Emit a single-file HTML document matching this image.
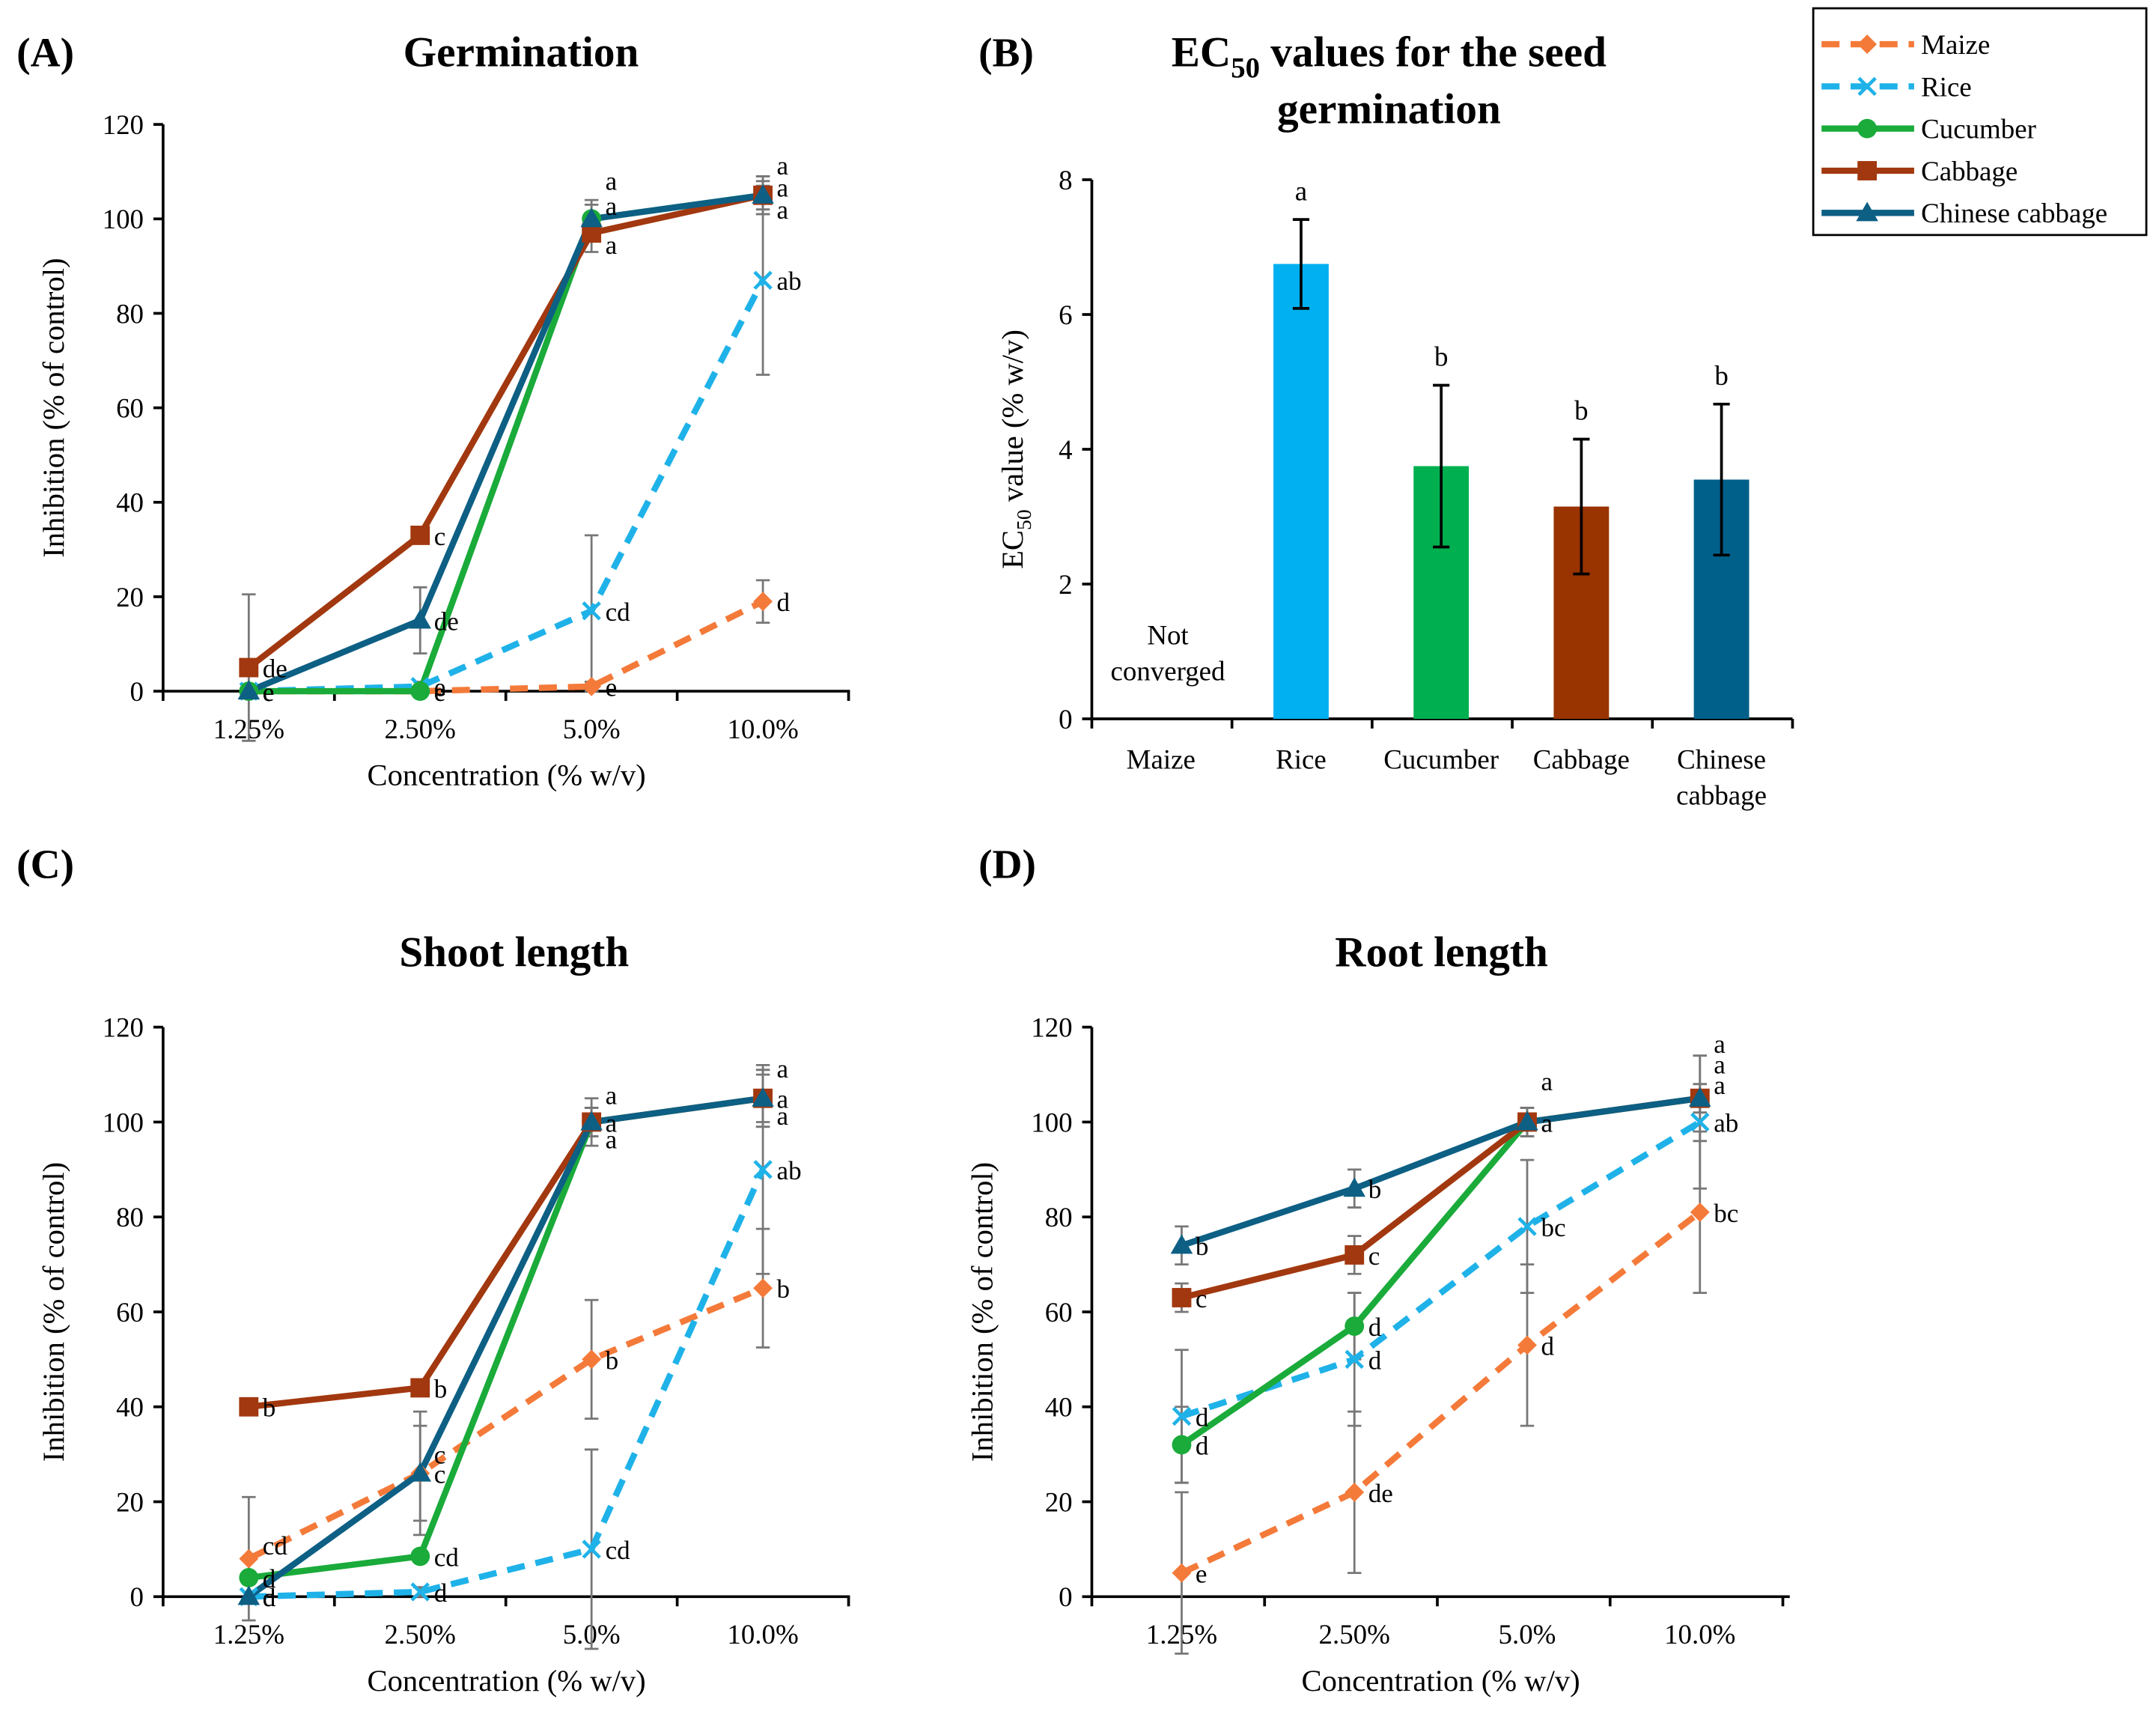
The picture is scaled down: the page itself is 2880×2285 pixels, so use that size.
<!DOCTYPE html>
<html><head><meta charset="utf-8">
<style>
html,body{margin:0;padding:0;background:#fff;}
svg, svg text, svg tspan{font-family:"Liberation Serif","Times New Roman",serif;}
</style></head>
<body>
<svg id="fig" width="2880" height="2280" viewBox="0 0 1560 1235" xmlns="http://www.w3.org/2000/svg" font-family="Liberation Serif, serif"></svg>
<script>
// ---- data ----
const concCategories = ["1.25%","2.50%","5.0%","10.0%"];
const yTicksLine = [0,20,40,60,80,100,120];
const seriesNames = ["Maize","Rice","Cucumber","Cabbage","Chinese cabbage"];
// Panel A germination
const germMaize = [0,0,1,19];
const germRice = [0,1,17,87];
const germCucumber = [0,0,100,105];
const germCabbage = [5,33,97,105];
const germChinese = [0,15,100,105];
const germErrMaize = [0,0,1,4.5];
const germErrRice = [0,1,16,20];
const germErrCucumber = [0,0,3,3];
const germErrCabbage = [15.5,0,4,4];
const germErrChinese = [0,7,4,4];
const germLetters = [["e","e","e","d"],["e","e","cd","ab"],["e","e","a","a"],["de","c","a","a"],["e","de","a","a"]];
const germLetterDy = [[0,0,0,0],[0,0,0,0],[0,0,-28,-22],[0,0,8,10],[0,0,-10,-6]];
// Panel C shoot
const shootMaize = [8,26,50,65];
const shootRice = [0,1,10,90];
const shootCucumber = [4,8.5,100,105];
const shootCabbage = [40,44,100,105];
const shootChinese = [0,26,100,105];
const shootErrMaize = [13,10,12.5,12.5];
const shootErrRice = [0,1,21,22];
const shootErrCucumber = [0,0,3,5];
const shootErrCabbage = [1,1,5,6];
const shootErrChinese = [0,13,3,6];
const shootLetters = [["cd","c","b","b"],["d","d","cd","ab"],["d","cd","a","a"],["b","b","a","a"],["d","c","a","a"]];
const shootLetterDy = [[-10,-14,0,0],[0,0,0,0],[0,0,-20,-22],[0,0,12,12],[0,0,0,0]];
// Panel D root
const rootMaize = [5,22,53,81];
const rootRice = [38,50,78,100];
const rootCucumber = [32,57,100,105];
const rootCabbage = [63,72,100,105];
const rootChinese = [74,86,100,105];
const rootErrMaize = [17,17,17,17];
const rootErrRice = [14,14,14,14];
const rootErrCucumber = [8,7,3,3];
const rootErrCabbage = [3,4,3,3];
const rootErrChinese = [4,4,3,9];
const rootLetters = [["e","de","d","bc"],["d","d","bc","ab"],["d","d","a","a"],["c","c","a","a"],["b","b","a","a"]];
const rootLetterDy = [[0,0,0,0],[0,0,0,0],[0,0,-30,-40],[0,0,0,-25],[0,0,0,-10]];
// Panel B EC50
const ecCategories = ["Maize","Rice","Cucumber","Cabbage","Chinese cabbage"];
const ecValues = [null,6.75,3.75,3.15,3.55];
const ecErrors = [null,0.66,1.2,1.0,1.12];
const ecLetters = ["","a","b","b","b"];
const ecTicks = [0,2,4,6,8];

const colors = ["#f47a3a","#1fb2e8","#1aab3a","#a2380f","#0d5f84"];
const barColors = [null,"#00b0f0","#00b050","#993300","#00608a"];
const dashed = [true,true,false,false,false];
const markers = ["diamond","x","circle","square","triangle"];

const NS="http://www.w3.org/2000/svg";
const svg=document.getElementById('fig');
function el(tag,attrs,parent,text){const e=document.createElementNS(NS,tag);for(const k in attrs)e.setAttribute(k,attrs[k]);if(tag==='text')e.setAttribute('font-family','Liberation Serif, serif');if(text!==undefined)e.textContent=text;(parent||svg).appendChild(e);return e;}

function marker(g,type,x,y,c){
  let m;
  if(type==="diamond") m=el('polygon',{points:`${x},${y-7} ${x+7},${y} ${x},${y+7} ${x-7},${y}`,fill:c},g);
  else if(type==="x"){m=el('path',{d:`M${x-6},${y-6}L${x+6},${y+6}M${x-6},${y+6}L${x+6},${y-6}`,stroke:c,'stroke-width':2.5},g);}
  else if(type==="circle") m=el('circle',{cx:x,cy:y,r:7,fill:c},g);
  else if(type==="square") m=el('rect',{x:x-7,y:y-7,width:14,height:14,fill:c},g);
  else m=el('polygon',{points:`${x},${y-8} ${x+8},${y+6} ${x-8},${y+6}`,fill:c},g);
  return m;
}

function linePanel(name,cfg,series,errs,letters,ldy){
  const g=el('g',{});
  
  
  const {ax,axEnd,y0,yTop,x0,step,title,titleX,titleY,tag,tagY} = cfg;
  const ys=v=>y0-(v/120)*(y0-yTop);
  const xs=i=>x0+i*step;
  const t=el('text',{x:titleX,y:titleY,'font-size':31,'font-weight':'bold','text-anchor':'middle'},g,title);
  
  const tg=el('text',{x:cfg.tagX||12,y:tagY,'font-size':30,'font-weight':'bold'},g,tag);
  
  el('line',{x1:ax,y1:yTop,x2:ax,y2:y0,stroke:'#000','stroke-width':2},g);
  el('line',{x1:ax,y1:y0,x2:axEnd,y2:y0,stroke:'#000','stroke-width':2},g);
  yTicksLine.forEach(v=>{
    el('line',{x1:ax-7,y1:ys(v),x2:ax,y2:ys(v),stroke:'#000','stroke-width':2},g);
    const l=el('text',{x:ax-14,y:ys(v)+7,'font-size':20,'text-anchor':'end'},g,String(v));
    
  });
  for(let i=0;i<=concCategories.length;i++){
    const xx=ax+i*step;
    el('line',{x1:xx,y1:y0,x2:xx,y2:y0+7,stroke:'#000','stroke-width':2},g);
  }
  concCategories.forEach((c,i)=>{
    const l=el('text',{x:xs(i),y:y0+34,'font-size':20,'text-anchor':'middle'},g,c);
    
  });
  const xt=el('text',{x:(ax+axEnd)/2,y:y0+68,'font-size':22,'text-anchor':'middle'},g,'Concentration (% w/v)');
  
  const yt=el('text',{x:0,y:0,'font-size':22,'text-anchor':'middle',transform:`translate(${ax-72},${(y0+yTop)/2}) rotate(-90)`},g,'Inhibition (% of control)');
  
  series.forEach((s,k)=>{
    s.forEach((v,i)=>{
      const e=errs[k][i]; if(!e) return;
      const x=xs(i),a=ys(v+e),b=ys(v-e);
      const eb=el('path',{d:`M${x},${a}L${x},${b}M${x-5},${a}L${x+5},${a}M${x-5},${b}L${x+5},${b}`,stroke:'#777','stroke-width':1.5,fill:'none'},g);
      
    });
  });
  series.forEach((s,k)=>{
    const pts=s.map((v,i)=>`${xs(i)},${ys(v)}`).join(' ');
    const pl=el('polyline',{points:pts,fill:'none',stroke:colors[k],'stroke-width':4.5,'stroke-dasharray':dashed[k]?'13,8':'none','stroke-linejoin':'round'},g);
    
    
  });
  series.forEach((s,k)=>{
    s.forEach((v,i)=>{
      const m=marker(g,markers[k],xs(i),ys(v),colors[k]);
      
      
      const lt=letters[k][i];
      if(lt){
        const l=el('text',{x:xs(i)+10,y:ys(v)+7+ldy[k][i],'font-size':19},g,lt);
        
      }
    });
  });
}

linePanel('germination-chart',{ax:118,axEnd:615,y0:500,yTop:90,x0:180,step:124,title:'Germination',titleX:377,titleY:48,tag:'(A)',tagY:48},
  [germMaize,germRice,germCucumber,germCabbage,germChinese],
  [germErrMaize,germErrRice,germErrCucumber,germErrCabbage,germErrChinese],germLetters,germLetterDy);
linePanel('shoot-length-chart',{ax:118,axEnd:615,y0:1155,yTop:743,x0:180,step:124,title:'Shoot length',titleX:372,titleY:699,tag:'(C)',tagY:635},
  [shootMaize,shootRice,shootCucumber,shootCabbage,shootChinese],
  [shootErrMaize,shootErrRice,shootErrCucumber,shootErrCabbage,shootErrChinese],shootLetters,shootLetterDy);
linePanel('root-length-chart',{ax:790,axEnd:1295,y0:1155,yTop:743,x0:855,step:125,title:'Root length',titleX:1043,titleY:699,tag:'(D)',tagY:635,tagX:708},
  [rootMaize,rootRice,rootCucumber,rootCabbage,rootChinese],
  [rootErrMaize,rootErrRice,rootErrCucumber,rootErrCabbage,rootErrChinese],rootLetters,rootLetterDy);

// Panel B
(function(){
  const g=el('g',{});
  
  const ax=790,axEnd=1297,y0=520,yTop=130,step=101.4;
  const ys=v=>y0-(v/8)*(y0-yTop);
  const xs=i=>840+step*i;
  const tg=el('text',{x:708,y:48,'font-size':30,'font-weight':'bold'},g,'(B)');
  
  const t=el('text',{x:1005,y:48,'font-size':31,'font-weight':'bold','text-anchor':'middle'},g);
  
  el('tspan',{},t,'EC');el('tspan',{'font-size':21,dy:8},t,'50');el('tspan',{dy:-8},t,' values for the seed');
  el('text',{x:1005,y:89,'font-size':31,'font-weight':'bold','text-anchor':'middle'},g,'germination');
  el('line',{x1:ax,y1:yTop,x2:ax,y2:y0,stroke:'#000','stroke-width':2},g);
  el('line',{x1:ax,y1:y0,x2:axEnd,y2:y0,stroke:'#000','stroke-width':2},g);
  ecTicks.forEach(v=>{
    el('line',{x1:ax-7,y1:ys(v),x2:ax,y2:ys(v),stroke:'#000','stroke-width':2},g);
    const l=el('text',{x:ax-14,y:ys(v)+7,'font-size':20,'text-anchor':'end'},g,String(v));
    
  });
  for(let i=0;i<=5;i++) el('line',{x1:ax+i*step,y1:y0,x2:ax+i*step,y2:y0+7,stroke:'#000','stroke-width':2},g);
  const yt=el('text',{x:0,y:0,'font-size':22,'text-anchor':'middle',transform:`translate(${ax-50},${(y0+yTop)/2}) rotate(-90)`},g);
  
  el('tspan',{},yt,'EC');el('tspan',{'font-size':15,dy:6},yt,'50');el('tspan',{dy:-6},yt,' value (% w/v)');
  ecCategories.forEach((c,i)=>{
    const parts=c==="Chinese cabbage"?["Chinese","cabbage"]:[c];
    parts.forEach((p,j)=>{
      const l=el('text',{x:xs(i),y:y0+36+j*26,'font-size':20,'text-anchor':'middle'},g,p);
      
    });
    const v=ecValues[i];
    if(v===null){
      el('text',{x:xs(i)+5,y:466,'font-size':20,'text-anchor':'middle'},g,'Not');
      el('text',{x:xs(i)+5,y:492,'font-size':20,'text-anchor':'middle'},g,'converged');
      return;
    }
    const b=el('rect',{x:xs(i)-20,y:ys(v),width:40,height:y0-ys(v),fill:barColors[i]},g);
    
    const e=ecErrors[i],a=ys(v+e),bb=ys(v-e),x=xs(i);
    el('path',{d:`M${x},${a}L${x},${bb}M${x-6},${a}L${x+6},${a}M${x-6},${bb}L${x+6},${bb}`,stroke:'#000','stroke-width':2,fill:'none'},g);
    const l=el('text',{x:x,y:a-14,'font-size':20,'text-anchor':'middle'},g,ecLetters[i]);
    
  });
})();

// Legend
(function(){
  const g=el('g',{});
  
  el('rect',{x:1312,y:6,width:241,height:164,fill:'#fff',stroke:'#000','stroke-width':1.5},g);
  seriesNames.forEach((n,k)=>{
    const y=32+k*30.5;
    const e=el('g',{},g);
    
    el('line',{x1:1318,y1:y,x2:1385,y2:y,stroke:colors[k],'stroke-width':4.5,'stroke-dasharray':dashed[k]?'13,8':'none'},e);
    marker(e,markers[k],1351,y,colors[k]);
    el('text',{x:1390,y:y+7,'font-size':20},e,n);
  });
})();
</script>
</body></html>
